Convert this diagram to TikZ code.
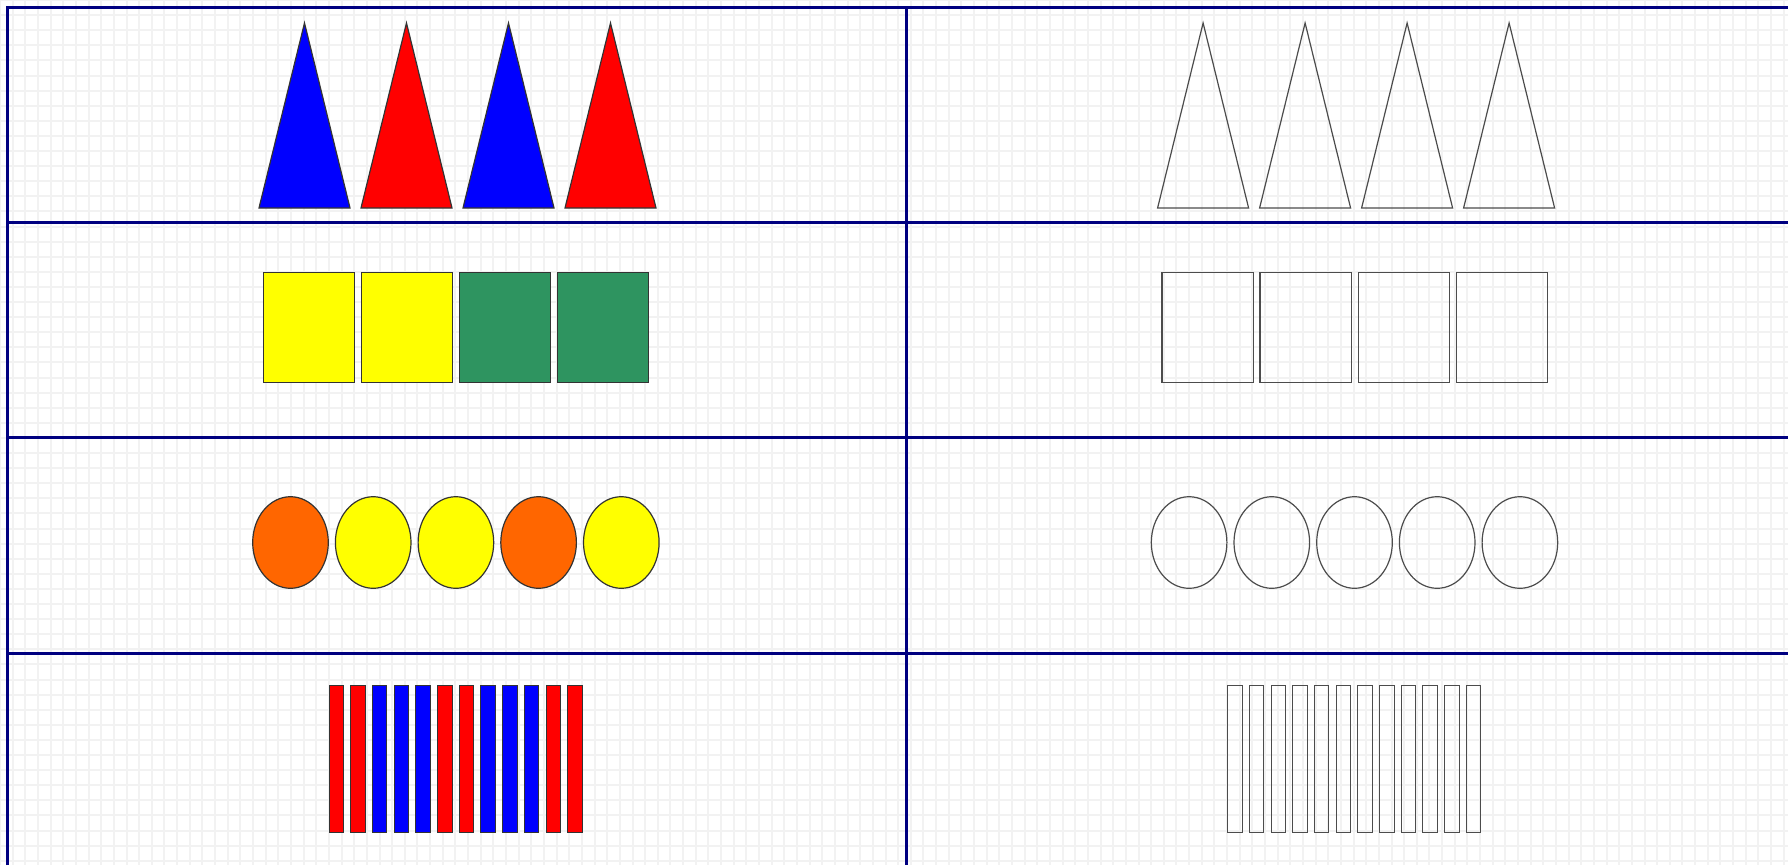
\documentclass[tikz,border=0pt]{standalone}
\usetikzlibrary{positioning}
\definecolor{navyline}{RGB}{0,0,128}
\definecolor{tgreen}{RGB}{46,148,96}
\definecolor{torange}{RGB}{255,102,0}
\definecolor{tyellow}{RGB}{255,255,0}
\definecolor{tred}{RGB}{255,0,0}
\definecolor{tblue}{RGB}{0,0,255}
\definecolor{gridgray}{RGB}{242,242,242}

\begin{document}
\begin{tikzpicture}[x=1pt,y=-1pt,
  piece/.style={draw=black!80,line width=1.2pt},
  blank/.style={draw=black!70,line width=1.2pt},
  cellline/.style={draw=navyline,line width=3pt}]
\useasboundingbox (0,0) rectangle (1788,865);
\fill[white] (0,0) rectangle (1788,865);
\draw[gridgray,line width=2pt,xstep=12.65pt,ystep=15.1pt] (0,865) grid (1788,0);

% cones
\foreach \c [count=\i from 0] in {tblue,tred,tblue,tred}{
  \filldraw[piece,fill=\c] (259+102*\i,208) -- (304.5+102*\i,23) -- (350+102*\i,208) -- cycle;
  \draw[blank] (1157.6+102*\i,208) -- (1203.1+102*\i,23) -- (1248.6+102*\i,208) -- cycle;
}
% blocks
\foreach \c [count=\i from 0] in {tyellow,tyellow,tgreen,tgreen}{
  \filldraw[piece,fill=\c] (263.4+98.05*\i,272.5) rectangle ++(91.2,109.8);
  \draw[blank] (1162+98.05*\i,272.5) rectangle ++(91.2,109.8);
}
% beads
\foreach \c [count=\i from 0] in {torange,tyellow,tyellow,torange,tyellow}{
  \filldraw[piece,fill=\c] (290.5+82.7*\i,542.5) ellipse [x radius=37.8pt,y radius=45.8pt];
  \draw[blank] (1189.1+82.7*\i,542.5) ellipse [x radius=37.8pt,y radius=45.8pt];
}
% rods
\foreach \c [count=\i from 0] in {tred,tred,tblue,tblue,tblue,tred,tred,tblue,tblue,tblue,tred,tred}{
  \filldraw[piece,line width=1pt,fill=\c] (329+21.7*\i,685.7) rectangle ++(14.5,146.6);
  \draw[blank,line width=1pt] (1227.6+21.7*\i,685.7) rectangle ++(14.5,146.6);
}

% table rules
\draw[cellline] (7.5,865) -- (7.5,7.5) -- (1788,7.5);
\foreach \y in {222.7,437.9,653.2} \draw[cellline] (7.5,\y) -- (1788,\y);
\draw[cellline] (906.1,7.5) -- (906.1,865);
\end{tikzpicture}
\end{document}
